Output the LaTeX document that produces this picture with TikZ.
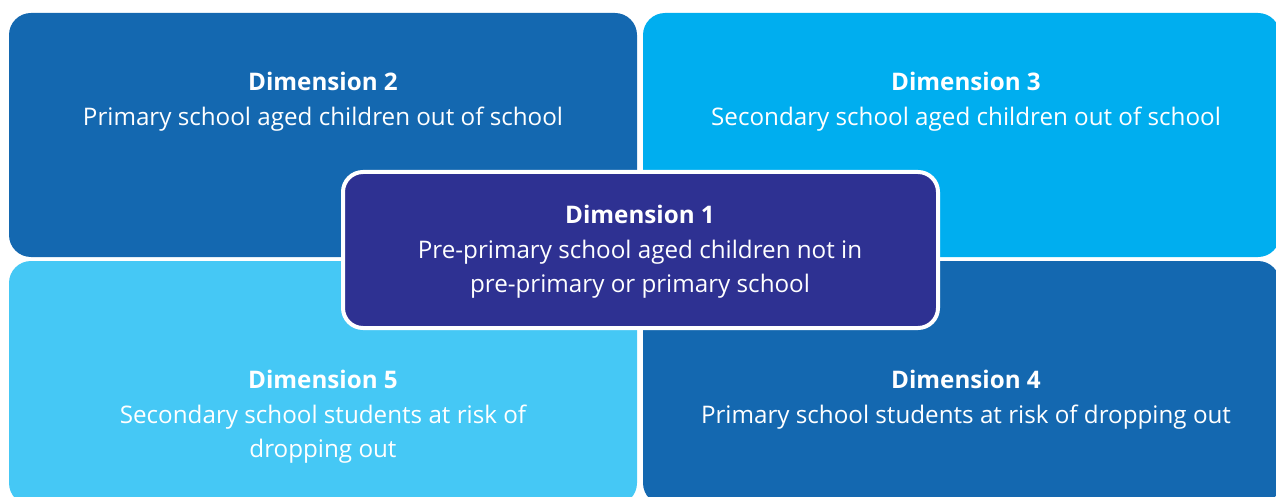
\documentclass[tikz,border=0pt]{standalone}
\usepackage{fontspec}
\setmainfont{Open Sans}

\definecolor{darkquad}{HTML}{1468B0}
\definecolor{cyanquad}{HTML}{00AEEF}
\definecolor{lightquad}{HTML}{45C8F5}
\definecolor{hubfill}{HTML}{2E3192}

\begin{document}
\begin{tikzpicture}[x=1pt, y=-1pt,
		quad/.style={rounded corners=22pt, inner sep=0pt, minimum height=244pt},
		hub/.style={draw=white, line width=4pt, fill=hubfill, rounded corners=20pt, inner sep=0pt, minimum width=595pt, minimum height=156pt},
		dimtext/.style={text=white, align=center, anchor=north, inner sep=0pt, font=\fontsize{24.2}{34.5}\selectfont}]
		
		\useasboundingbox (0,0) rectangle (1276,497);
		\clip (0,0) rectangle (1276,497);
		
		\node [quad, fill=darkquad, minimum width=628pt] (q2) at (323,135) {};
		\node [quad, fill=cyanquad, minimum width=637pt] (q3) at (961.5,135) {};
		\node [quad, fill=lightquad, minimum width=628pt] (q5) at (323,383) {};
		\node [quad, fill=darkquad, minimum width=637pt] (q4) at (961.5,383) {};
		
		\node [hub] (q1) at (640.5,250) {};
		
		\node [dimtext] (t2) at (323,72) {\textbf{Dimension 2}\\Primary school aged children out of school};
		\node [dimtext] (t3) at (966,72) {\textbf{Dimension 3}\\Secondary school aged children out of school};
		\node [dimtext] (t5) at (323,370) {\textbf{Dimension 5}\\Secondary school students at risk of\\dropping out};
		\node [dimtext] (t4) at (966,370) {\textbf{Dimension 4}\\Primary school students at risk of dropping out};
		\node [dimtext] (t1) at (640,205) {\textbf{Dimension 1}\\Pre-primary school aged children not in\\pre-primary or primary school};
		
	\end{tikzpicture}
\end{document}
